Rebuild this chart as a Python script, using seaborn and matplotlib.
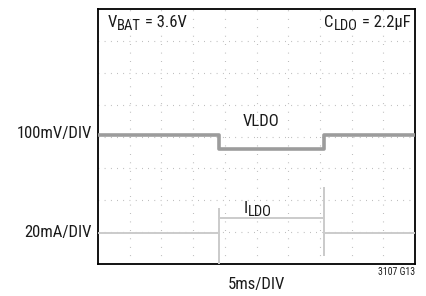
import numpy as np
import pandas as pd
import seaborn as sns
import matplotlib.pyplot as plt
from matplotlib import font_manager

# scope capture, 5ms/DIV horizontally
t_vldo_ms = [0, 19.1, 19.1, 35.65, 35.65, 50]
vldo_mv = [0, 0, -46, -46, 0, 0]          # offset from the trace level
t_ildo_ms = [0, 19.1, 19.1, 19.1, 19.1, 35.65, 35.65, 35.65, 35.65, 50]
ildo_ma = [0, 0, -19, 15, 9, 9, 28, -14, 0, 0]

vldo_level_div = 4.06
ildo_level_div = 0.98
mv_per_div = 100
ma_per_div = 20
ms_per_div = 5

sns.set_style('white')

# narrow font if there is one, like the original datasheet font
names = {f.name for f in font_manager.fontManager.ttflist}
narrow = [n for n in ['Liberation Sans Narrow', 'Roboto Condensed',
                      'Open Sans Condensed', 'Noto Sans Condensed',
                      'DejaVu Sans Condensed'] if n in names]
main_font = narrow[0] if narrow else 'Liberation Sans'
plt.rcParams['font.family'] = [main_font, 'DejaVu Sans']
plt.rcParams['font.stretch'] = 'condensed'
plt.rcParams['text.color'] = '#1a1a1a'

df_v = pd.DataFrame({'t': t_vldo_ms,
                     'y': vldo_level_div + np.array(vldo_mv) / mv_per_div})
df_i = pd.DataFrame({'t': t_ildo_ms,
                     'y': ildo_level_div + np.array(ildo_ma) / ma_per_div})

fig = plt.figure(figsize=(4.27, 2.96), dpi=100)
ax = fig.add_axes([98 / 427, 32 / 296, 317 / 427, 255 / 296])

# graticule
for k in range(1, 10):
    ax.axvline(k * ms_per_div, color='#a0a0a0', lw=0.8, ls=(0, (0.6, 7)), zorder=1)
for k in range(1, 8):
    ax.axhline(k, color='#a0a0a0', lw=0.8, ls=(0, (0.6, 5)), zorder=1)

sns.lineplot(data=df_v, x='t', y='y', ax=ax, color='#9c9c9c', lw=2.6,
             estimator=None, sort=False, zorder=3)
sns.lineplot(data=df_i, x='t', y='y', ax=ax, color='#cbcbcb', lw=1.4,
             estimator=None, sort=False, zorder=3)

ax.set_xlim(0, 50)
ax.set_ylim(0, 8)
ax.set_xticks([])
ax.set_yticks([])
ax.set_xlabel('')
ax.set_ylabel('')
for s in ax.spines.values():
    s.set_color('black')
    s.set_linewidth(1.3)

fs = 12
fs_sub = 10.5


def sub_label(x, y, base, sub, rest='', coords=None, align='left'):
    """Text with a large datasheet-style subscript, built from pieces."""
    coords = coords or ax.transAxes
    if align == 'left':
        t0 = ax.text(x, y, base, transform=coords, fontsize=fs,
                     ha='left', va='baseline')
        t1 = ax.annotate(sub, xy=(1, 0), xycoords=t0, xytext=(0, -2.5),
                         textcoords='offset points', fontsize=fs_sub,
                         ha='left', va='bottom')
        if rest:
            ax.annotate(rest, xy=(1, 0), xycoords=t1, xytext=(0, 2.5),
                        textcoords='offset points', fontsize=fs,
                        ha='left', va='bottom')
    else:
        t2 = ax.text(x, y, rest, transform=coords, fontsize=fs,
                     ha='right', va='baseline')
        t1 = ax.annotate(sub, xy=(0, 0), xycoords=t2, xytext=(0, -2.5),
                         textcoords='offset points', fontsize=fs_sub,
                         ha='right', va='bottom')
        ax.annotate(base, xy=(0, 0), xycoords=t1, xytext=(0, 2.5),
                    textcoords='offset points', fontsize=fs,
                    ha='right', va='bottom')


sub_label(0.03, 0.93, 'V', 'BAT', ' = 3.6V')
sub_label(0.985, 0.93, 'C', 'LDO', ' = 2.2µF', align='right')
ax.text(25.7, 4.47, 'VLDO', fontsize=fs, ha='center', va='center')
sub_label(0.46, 0.2, 'I', 'LDO')

fig.text(92 / 427, 1 - 134 / 296, '100mV/DIV', fontsize=fs, ha='right', va='center')
fig.text(92 / 427, 1 - 233 / 296, '20mA/DIV', fontsize=fs, ha='right', va='center')
fig.text(256 / 427, 1 - 285 / 296, '5ms/DIV', fontsize=fs, ha='center', va='center')
fig.text(415 / 427, 1 - 272 / 296, '3107 G13', fontsize=7, ha='right', va='center')

fig.savefig('out.png', dpi=100)
